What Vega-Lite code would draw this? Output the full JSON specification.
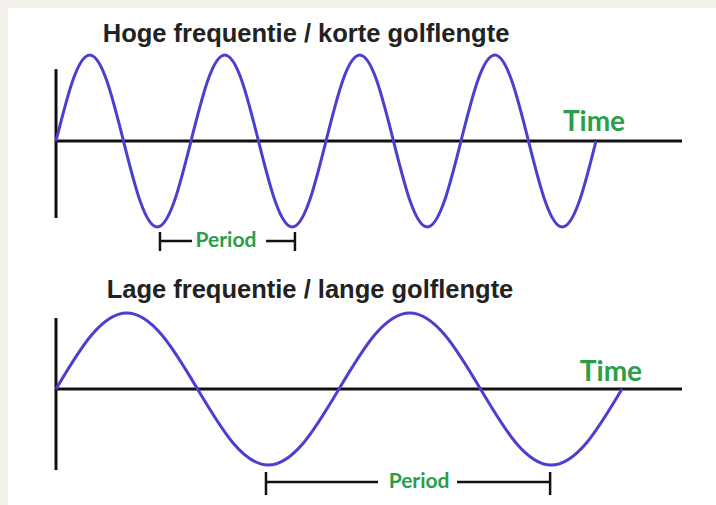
{
  "$schema": "https://vega.github.io/schema/vega-lite/v6.json",
  "background": "#f3f0ea",
  "padding": {"left": 8, "top": 8, "right": 0, "bottom": 0},
  "spacing": 0,
  "config": {"view": {"stroke": null, "fill": "white"}, "concat": {"spacing": 0}},
  "datasets": {
    "top_wave": [
      {"t": 0, "v": 0}, {"t": 0.125, "v": 0.707}, {"t": 0.25, "v": 1}, {"t": 0.375, "v": 0.707}, {"t": 0.5, "v": 0}, {"t": 0.625, "v": -0.707}, {"t": 0.75, "v": -1}, {"t": 0.875, "v": -0.707},
      {"t": 1, "v": 0}, {"t": 1.125, "v": 0.707}, {"t": 1.25, "v": 1}, {"t": 1.375, "v": 0.707}, {"t": 1.5, "v": 0}, {"t": 1.625, "v": -0.707}, {"t": 1.75, "v": -1}, {"t": 1.875, "v": -0.707},
      {"t": 2, "v": 0}, {"t": 2.125, "v": 0.707}, {"t": 2.25, "v": 1}, {"t": 2.375, "v": 0.707}, {"t": 2.5, "v": 0}, {"t": 2.625, "v": -0.707}, {"t": 2.75, "v": -1}, {"t": 2.875, "v": -0.707},
      {"t": 3, "v": 0}, {"t": 3.125, "v": 0.707}, {"t": 3.25, "v": 1}, {"t": 3.375, "v": 0.707}, {"t": 3.5, "v": 0}, {"t": 3.625, "v": -0.707}, {"t": 3.75, "v": -1}, {"t": 3.875, "v": -0.707},
      {"t": 4, "v": 0}
    ],
    "bottom_wave": [
      {"t": 0, "v": 0}, {"t": 0.125, "v": 0.707}, {"t": 0.25, "v": 1}, {"t": 0.375, "v": 0.707}, {"t": 0.5, "v": 0}, {"t": 0.625, "v": -0.707}, {"t": 0.75, "v": -1}, {"t": 0.875, "v": -0.707},
      {"t": 1, "v": 0}, {"t": 1.125, "v": 0.707}, {"t": 1.25, "v": 1}, {"t": 1.375, "v": 0.707}, {"t": 1.5, "v": 0}, {"t": 1.625, "v": -0.707}, {"t": 1.75, "v": -1}, {"t": 1.875, "v": -0.707},
      {"t": 2, "v": 0}
    ],
    "top_axes": [
      {"t": 0, "t2": 4.637, "v": 0, "v2": 0},
      {"t": 0, "t2": 0, "v": 0.837, "v2": -0.895}
    ],
    "bottom_axes": [
      {"t": 0, "t2": 2.212, "v": 0, "v2": 0},
      {"t": 0, "t2": 0, "v": 0.934, "v2": -1.066}
    ],
    "top_bracket": [
      {"t": 0.77, "t2": 1.007, "v": -1.163, "v2": -1.163},
      {"t": 1.556, "t2": 1.77, "v": -1.163, "v2": -1.163},
      {"t": 0.77, "t2": 0.77, "v": -1.058, "v2": -1.279},
      {"t": 1.77, "t2": 1.77, "v": -1.058, "v2": -1.279}
    ],
    "bottom_bracket": [
      {"t": 0.742, "t2": 1.138, "v": -1.224, "v2": -1.224},
      {"t": 1.417, "t2": 1.746, "v": -1.224, "v2": -1.224},
      {"t": 0.742, "t2": 0.742, "v": -1.092, "v2": -1.395},
      {"t": 1.746, "t2": 1.746, "v": -1.092, "v2": -1.395}
    ],
    "top_title": [{"t": 1.852, "v": 1.244, "label": "Hoge frequentie / korte golflengte"}],
    "bottom_title": [{"t": 0.8975, "v": 1.3, "label": "Lage frequentie / lange golflengte"}],
    "top_time": [{"t": 3.985, "v": 0.215, "label": "Time"}],
    "bottom_time": [{"t": 1.961, "v": 0.215, "label": "Time"}],
    "top_period": [{"t": 1.259, "v": -1.163, "label": "Period"}],
    "bottom_period": [{"t": 1.283, "v": -1.224, "label": "Period"}]
  },
  "vconcat": [
    {
      "width": 708,
      "height": 254,
      "encoding": {
        "x": {"field": "t", "type": "quantitative", "scale": {"domain": [-0.3556, 4.8889], "nice": false, "zero": false}, "axis": null},
        "y": {"field": "v", "type": "quantitative", "scale": {"domain": [-1.407, 1.547], "nice": false, "zero": false}, "axis": null}
      },
      "layer": [
        {"data": {"name": "top_axes"}, "mark": {"type": "rule", "color": "#111111", "strokeWidth": 3},
         "encoding": {"x2": {"field": "t2"}, "y2": {"field": "v2"}}},
        {"data": {"name": "top_bracket"}, "mark": {"type": "rule", "color": "#111111", "strokeWidth": 2.5},
         "encoding": {"x2": {"field": "t2"}, "y2": {"field": "v2"}}},
        {"data": {"name": "top_wave"}, "mark": {"type": "line", "interpolate": "natural", "color": "#4b3fd1", "strokeWidth": 3}},
        {"data": {"name": "top_title"}, "mark": {"type": "text", "font": "Liberation Sans", "fontWeight": "bold", "fontSize": 25.5, "color": "#222222", "baseline": "middle", "align": "center"},
         "encoding": {"text": {"field": "label"}}},
        {"data": {"name": "top_time"}, "mark": {"type": "text", "font": "Lato", "fontWeight": "bold", "fontSize": 28, "color": "#2a9e48", "baseline": "middle", "align": "center"},
         "encoding": {"text": {"field": "label"}}},
        {"data": {"name": "top_period"}, "mark": {"type": "text", "font": "Lato", "fontWeight": "bold", "fontSize": 21, "color": "#2a9e48", "baseline": "middle", "align": "center"},
         "encoding": {"text": {"field": "label"}}}
      ]
    },
    {
      "width": 708,
      "height": 243,
      "encoding": {
        "x": {"field": "t", "type": "quantitative", "scale": {"domain": [-0.1696, 2.3322], "nice": false, "zero": false}, "axis": null},
        "y": {"field": "v", "type": "quantitative", "scale": {"domain": [-1.526, 1.671], "nice": false, "zero": false}, "axis": null}
      },
      "layer": [
        {"data": {"name": "bottom_axes"}, "mark": {"type": "rule", "color": "#111111", "strokeWidth": 3},
         "encoding": {"x2": {"field": "t2"}, "y2": {"field": "v2"}}},
        {"data": {"name": "bottom_bracket"}, "mark": {"type": "rule", "color": "#111111", "strokeWidth": 2.5},
         "encoding": {"x2": {"field": "t2"}, "y2": {"field": "v2"}}},
        {"data": {"name": "bottom_wave"}, "mark": {"type": "line", "interpolate": "natural", "color": "#4b3fd1", "strokeWidth": 3}},
        {"data": {"name": "bottom_title"}, "mark": {"type": "text", "font": "Liberation Sans", "fontWeight": "bold", "fontSize": 25.5, "color": "#222222", "baseline": "middle", "align": "center"},
         "encoding": {"text": {"field": "label"}}},
        {"data": {"name": "bottom_time"}, "mark": {"type": "text", "font": "Lato", "fontWeight": "bold", "fontSize": 28, "color": "#2a9e48", "baseline": "middle", "align": "center"},
         "encoding": {"text": {"field": "label"}}},
        {"data": {"name": "bottom_period"}, "mark": {"type": "text", "font": "Lato", "fontWeight": "bold", "fontSize": 21, "color": "#2a9e48", "baseline": "middle", "align": "center"},
         "encoding": {"text": {"field": "label"}}}
      ]
    }
  ]
}
